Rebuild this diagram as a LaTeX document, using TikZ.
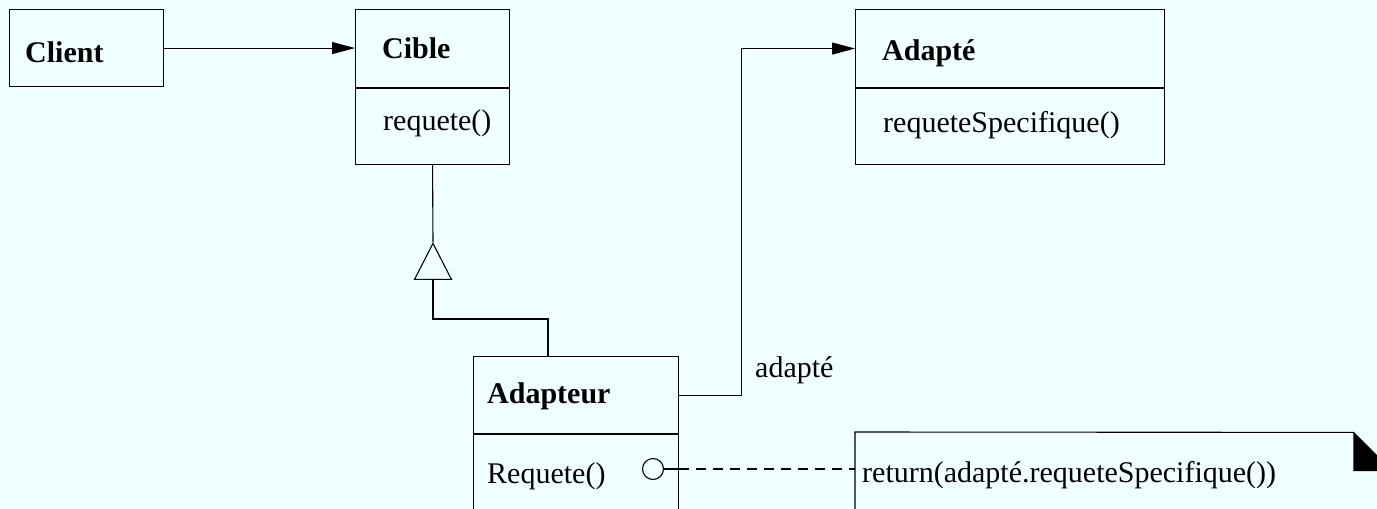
\documentclass[tikz,border=0pt]{standalone}
\usepackage{fontspec}
\setmainfont{Liberation Serif}
\usetikzlibrary{arrows.meta,calc,shapes.geometric}
\definecolor{azureback}{RGB}{240,255,255}

\tikzstyle{classbox} = [draw=black, line width=1.1pt, rectangle,
    anchor=north west, inner sep=0pt]
\tikzstyle{classname} = [anchor=base west, inner sep=0pt,
    font=\fontsize{30}{36}\selectfont\bfseries]
\tikzstyle{classop} = [anchor=base west, inner sep=0pt]
\tikzstyle{plain} = [draw=black, line width=1.1pt]
\tikzstyle{assoc} = [plain, -{Triangle[length=23pt, width=12pt]}]

\begin{document}
\begin{tikzpicture}[x=1pt, y=-1pt, font=\fontsize{30}{36}\selectfont]
\fill[azureback] (0,0) rectangle (1377,509);
\clip (0,0) rectangle (1377,509);

% classes
\node[classbox, minimum width=154pt, minimum height=77pt] (client) at (9,9) {};
\node[classname] (clientname) at (25,62) {Client};

\node[classbox, minimum width=154pt, minimum height=78pt] (cible) at (355,9) {};
\node[classbox, minimum width=154pt, minimum height=76pt] (cibleops) at (cible.south west) {};
\node[classname] (ciblename) at (382,58) {Cible};
\node[classop] (cibleop) at (383,130) {requete()};

\node[classbox, minimum width=309pt, minimum height=78pt] (adapte) at (855,9) {};
\node[classbox, minimum width=309pt, minimum height=76pt] (adapteops) at (adapte.south west) {};
\node[classname] (adaptename) at (882,60) {Adapté};
\node[classop] (adapteop) at (883,132) {requeteSpecifique()};

\node[classbox, minimum width=205pt, minimum height=77pt] (adapteur) at (473,356) {};
\node[classbox, minimum width=205pt, minimum height=87pt] (adapteurops) at (adapteur.south west) {};
\node[classname] (adapteurname) at (487,403) {Adapteur};
\node[classop] (adapteurop) at (487,483) {Requete()};

% note with folded corner
\node[minimum width=537pt, minimum height=100pt, anchor=north west, inner sep=0pt] (note) at (855,432) {};
\draw[plain] (note.south east) -- ++(0pt,61pt) -- ++(-39pt,39pt)
    -- (note.north west) -- (note.south west);
\fill ($(note.north east)+(-39pt,0pt)$) -- ++(0pt,-39pt) -- ++(39pt,0pt) -- cycle;
\node[classop] (notetext) at (862,482) {return(adapté.requeteSpecifique())};

% associations
\draw[assoc] (client.east) -- (client.east -| cible.west);
\draw[assoc] (adapteur.east) -- ++(62,0) |- (adapte.west);
\node[classop] (rolename) at (755,377) {adapté};

% generalisation
\node[plain, isosceles triangle, isosceles triangle stretches, shape border rotate=90,
    minimum width=37pt, minimum height=36pt, inner sep=0pt, anchor=apex] (gen) at (433,242) {};
\coordinate (adtop) at ($(adapteur.north west)+(75pt,0pt)$);
\draw[plain] (cibleops.south) -- (gen.apex);
\draw[plain] (gen.lower side) -- ++(0,39) -| (adtop);

% implementation note link
\node[plain, circle, minimum size=21pt, inner sep=0pt] (dot) at (653,469) {};
\draw[plain] (dot.east) -- (dot.east -| adapteurops.east);
\draw[plain, dash pattern=on 10pt off 7pt] (dot.east -| adapteurops.east) -- (dot.east -| note.west);
\end{tikzpicture}
\end{document}
